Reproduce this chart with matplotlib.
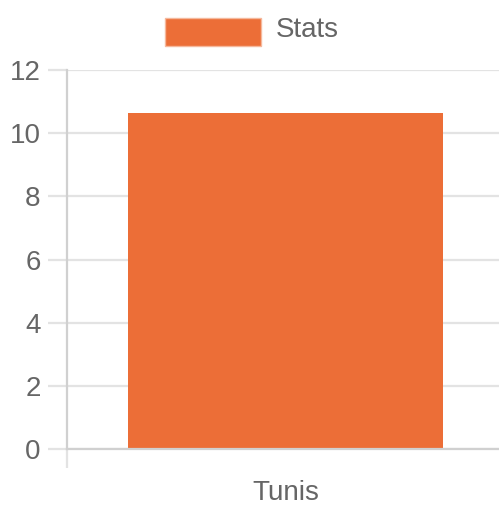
import matplotlib
matplotlib.use("Agg")
import matplotlib.pyplot as plt
from matplotlib.patches import Rectangle

categories = ["Tunis"]
values = [10.63]
series_label = "Stats"
y_ticks = [0, 2, 4, 6, 8, 10, 12]

bar_color = "#ec6e37"
grid_color = "#e3e3e3"
axis_color = "#d0d0d0"
text_color = "#666666"

plt.rcParams["font.family"] = ["Liberation Sans", "DejaVu Sans"]

W, H = 499, 505
fig = plt.figure(figsize=(W / 100, H / 100), dpi=100)
# the chart area runs a few pixels past the right edge of the image
ax = fig.add_axes([67 / W, (H - 449) / H, (504 - 67) / W, (449 - 70) / H])

x = list(range(len(categories)))
ax.bar(x, values, width=0.72, color=bar_color, zorder=2)

ax.set_xlim(-0.5, len(categories) - 0.5)
ax.set_ylim(0, 12)
ax.set_yticks(y_ticks)
ax.set_yticklabels([str(t) for t in y_ticks])
ax.set_xticks(x)
ax.set_xticklabels(categories)
ax.set_xticks([i - 0.5 for i in range(len(categories))], minor=True)

for spine in ["top", "right"]:
    ax.spines[spine].set_visible(False)
for spine in ["left", "bottom"]:
    ax.spines[spine].set_color(axis_color)
    ax.spines[spine].set_linewidth(1.6)

ax.grid(axis="y", color=grid_color, linewidth=1.6, zorder=0)
ax.set_axisbelow(True)

ax.tick_params(axis="y", length=14, width=1.6, color=grid_color, pad=5,
               labelsize=20, labelcolor=text_color)
ax.tick_params(axis="x", which="major", length=0, pad=22,
               labelsize=20, labelcolor=text_color)
ax.tick_params(axis="x", which="minor", length=14, width=1.6, color=grid_color)

# legend drawn like the chart's top legend
fig.patches.append(Rectangle((165 / W, (H - 46) / H), 96 / W, 28 / H,
                             transform=fig.transFigure, facecolor=bar_color,
                             edgecolor="#f5b89c", linewidth=1))
fig.text(276 / W, (H - 30) / H, series_label, fontsize=20, color=text_color,
         va="center", ha="left")

fig.savefig("out.png", dpi=100)
